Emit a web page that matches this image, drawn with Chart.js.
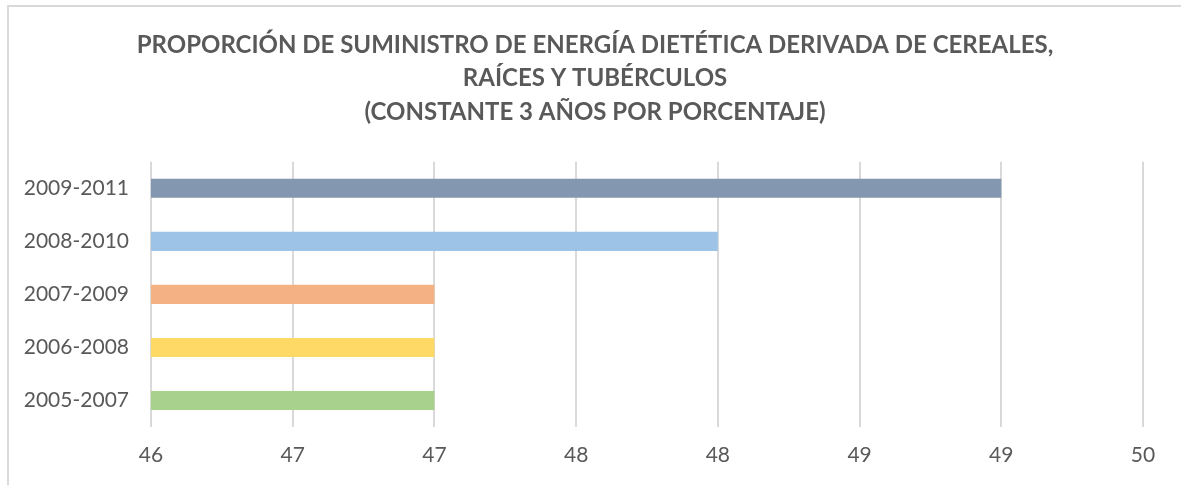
<!DOCTYPE html>
<html>
<head>
<meta charset="utf-8">
<script src="https://cdn.jsdelivr.net/npm/chart.js@4.4.0/dist/chart.umd.min.js"></script>
<style>
  body { margin: 0; background: #fff; }
  #wrap { position: relative; width: 1181px; height: 485px; }
  #frame { position: absolute; left: 7px; top: 5px; width: 1200px; height: 500px;
           border-left: 2px solid #d9d9d9; border-top: 2px solid #d9d9d9; pointer-events: none; }
</style>
</head>
<body>
<div id="wrap">
  <canvas id="myChart" width="1181" height="485"></canvas>
  <div id="frame"></div>
</div>
<script>
const periodos = ['2009-2011', '2008-2010', '2007-2009', '2006-2008', '2005-2007'];
const valores = [49, 48, 47, 47, 47];
const colores = ['#8497b0', '#9dc3e6', '#f4b183', '#ffd966', '#a9d18e'];
const titulo = [
  'PROPORCIÓN DE SUMINISTRO DE ENERGÍA DIETÉTICA DERIVADA DE CEREALES,',
  'RAÍCES Y TUBÉRCULOS',
  '(CONSTANTE 3 AÑOS POR PORCENTAJE)'
];
const ejeMin = 46;
const ejeMax = 49.5;
const paso = 0.5;

const data = {
  labels: periodos,
  datasets: [{
    data: valores,
    backgroundColor: colores,
    borderWidth: 0,
    barPercentage: 0.36,
    categoryPercentage: 1
  }]
};

const config = {
  type: 'bar',
  data: data,
  options: {
    indexAxis: 'y',
    responsive: false,
    animation: false,
    layout: { padding: { left: 9, right: 0, top: 0, bottom: 0 } },
    plugins: {
      legend: { display: false },
      tooltip: { enabled: false },
      title: {
        display: true,
        text: titulo,
        color: '#595959',
        font: { family: 'Lato', size: 24, weight: 'bold', lineHeight: 1.4 },
        padding: { top: 28, bottom: 33 }
      }
    },
    scales: {
      x: {
        type: 'linear',
        min: ejeMin,
        max: ejeMax,
        ticks: {
          stepSize: paso,
          color: '#595959',
          font: { family: 'Lato', size: 21 },
          padding: 16,
          callback: function (v) { return Math.round(v); }
        },
        grid: { color: '#d9d9d9', lineWidth: 2, drawTicks: false },
        border: { display: false },
        afterFit: function (scale) { scale.height = 58; }
      },
      y: {
        ticks: {
          color: '#595959',
          font: { family: 'Lato', size: 21 },
          padding: 22
        },
        grid: { display: false, drawTicks: false },
        border: { display: false },
        afterFit: function (scale) { scale.width = 142; }
      },
      // eje vacio a la derecha, solo para dejar margen
      margen: {
        type: 'category',
        position: 'right',
        ticks: { display: false },
        grid: { display: false, drawTicks: false },
        border: { display: false },
        afterFit: function (scale) { scale.width = 38; }
      }
    }
  }
};

const myChart = new Chart(document.getElementById('myChart'), config);
</script>
</body>
</html>
